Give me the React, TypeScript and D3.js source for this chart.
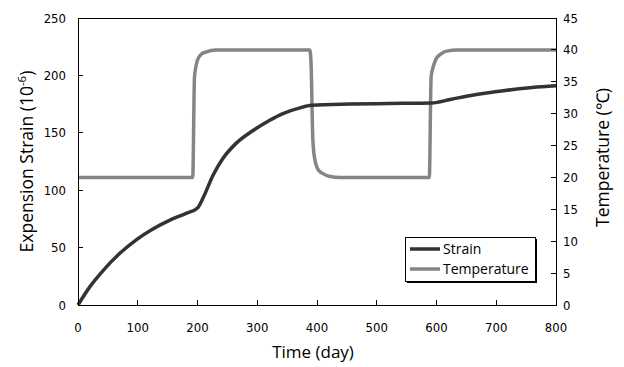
import * as d3 from "d3";

// ── Data ───────────────────────────────────────────────────

const strainDays = [0, 20, 42, 70, 98, 126, 154, 182, 200, 210, 226, 243, 265, 293, 321, 344, 370, 391, 455, 520, 592, 623, 662, 717, 760, 800];
const strainValues = [0, 16, 30, 45, 57, 66.5, 74, 80, 84.5, 94, 113, 128, 141, 152, 161, 167, 171.5, 174, 175, 175.5, 176, 179, 183, 187, 189.5, 191];

const tempDays = [0, 192, 195, 200, 206, 215, 230, 388, 390, 393, 396, 402, 410, 420, 440, 588, 591, 595, 600, 608, 617, 635, 800];
const tempValues = [20, 20, 35.8, 38.4, 39.3, 39.7, 40, 40, 38, 26, 23, 21.2, 20.6, 20.2, 20, 20, 35.8, 37.5, 38.7, 39.4, 39.8, 40, 40];

const xTicks = [0, 100, 200, 300, 400, 500, 600, 700, 800];
const leftTicks = [0, 50, 100, 150, 200, 250];
const rightTicks = [0, 5, 10, 15, 20, 25, 30, 35, 40, 45];

const seriesNames = ["Strain", "Temperature"];
const seriesColors = ["#333333", "#858585"];

// ── Layout ─────────────────────────────────────────────────

const W = 624;
const H = 367;
const M = { left: 78, right: 556, top: 18, bottom: 305 };
const TICK_FONT = "'DejaVu Sans Condensed', 'DejaVu Sans', sans-serif";
const TITLE_FONT = "'Open Sans', sans-serif";

export default function App() {
  const x = d3.scaleLinear().domain([0, 800]).range([M.left, M.right]);
  const yL = d3.scaleLinear().domain([0, 250]).range([M.bottom, M.top]);
  const yR = d3.scaleLinear().domain([0, 45]).range([M.bottom, M.top]);

  const strainLine = d3
    .line<number>()
    .x((_, i) => x(strainDays[i]))
    .y((d) => yL(d))
    .curve(d3.curveMonotoneX);

  const tempLine = d3
    .line<number>()
    .x((_, i) => x(tempDays[i]))
    .y((d) => yR(d))
    .curve(d3.curveMonotoneX);

  const legendX = 405;
  const legendY = 237;
  const legendW = 130;
  const legendH = 44;

  return (
    <svg
      width={W}
      height={H}
      style={{ position: "absolute", left: 0, top: 0, background: "#fff" }}
    >
      {/* Series */}
      <path
        d={tempLine(tempValues) ?? ""}
        fill="none"
        stroke={seriesColors[1]}
        strokeWidth={3.5}
        strokeLinejoin="round"
      />
      <path
        d={strainLine(strainValues) ?? ""}
        fill="none"
        stroke={seriesColors[0]}
        strokeWidth={3.5}
        strokeLinejoin="round"
      />

      {/* Plot frame */}
      <rect
        x={M.left}
        y={M.top}
        width={M.right - M.left}
        height={M.bottom - M.top}
        fill="none"
        stroke="#000"
        strokeWidth={1}
        shapeRendering="crispEdges"
      />

      {/* Bottom axis */}
      {xTicks.map((t) => (
        <g key={"x" + t}>
          <line
            x1={x(t)}
            x2={x(t)}
            y1={M.bottom}
            y2={M.bottom - 5}
            stroke="#000"
            shapeRendering="crispEdges"
          />
          <text
            x={x(t)}
            y={M.bottom + 27}
            textAnchor="middle"
            fontFamily={TICK_FONT}
            fontSize={13}
            fill="#000"
          >
            {t}
          </text>
        </g>
      ))}

      {/* Left axis */}
      {leftTicks.map((t) => (
        <g key={"l" + t}>
          <line
            x1={M.left}
            x2={M.left + 5}
            y1={yL(t)}
            y2={yL(t)}
            stroke="#000"
            shapeRendering="crispEdges"
          />
          <text
            x={M.left - 12}
            y={yL(t) + 4.5}
            textAnchor="end"
            fontFamily={TICK_FONT}
            fontSize={13}
            fill="#000"
          >
            {t}
          </text>
        </g>
      ))}

      {/* Right axis */}
      {rightTicks.map((t) => (
        <g key={"r" + t}>
          <line
            x1={M.right - 5}
            x2={M.right}
            y1={yR(t)}
            y2={yR(t)}
            stroke="#000"
            shapeRendering="crispEdges"
          />
          <text
            x={M.right + 7}
            y={yR(t) + 4.5}
            textAnchor="start"
            fontFamily={TICK_FONT}
            fontSize={13}
            fill="#000"
          >
            {t}
          </text>
        </g>
      ))}

      {/* Axis titles */}
      <text
        x={(M.left + M.right) / 2 - 4}
        y={358}
        textAnchor="middle"
        fontFamily={TITLE_FONT}
        fontSize={17}
        fill="#000"
      >
        Time (day)
      </text>
      <text
        transform={`translate(33, ${(M.top + M.bottom) / 2}) rotate(-90)`}
        textAnchor="middle"
        fontFamily={TITLE_FONT}
        fontSize={17.5}
        fill="#000"
      >
        Expension Strain (10
        <tspan dy={-7} fontSize={11.5}>
          -6
        </tspan>
        <tspan dy={7}>)</tspan>
      </text>
      <text
        transform={`translate(609, ${(M.top + M.bottom) / 2 - 4}) rotate(-90)`}
        textAnchor="middle"
        fontFamily={TITLE_FONT}
        fontSize={17.5}
        fill="#000"
      >
        Temperature (℃)
      </text>

      {/* Legend */}
      <rect
        x={legendX + 2}
        y={legendY + 2}
        width={legendW}
        height={legendH}
        fill="#000"
        shapeRendering="crispEdges"
      />
      <rect
        x={legendX}
        y={legendY}
        width={legendW}
        height={legendH}
        fill="#fff"
        stroke="#000"
        strokeWidth={1}
        shapeRendering="crispEdges"
      />
      {seriesNames.map((name, i) => (
        <g key={name}>
          <line
            x1={legendX + 5}
            x2={legendX + 35}
            y1={legendY + 12 + i * 20}
            y2={legendY + 12 + i * 20}
            stroke={seriesColors[i]}
            strokeWidth={3.5}
          />
          <text
            x={legendX + 38}
            y={legendY + 17 + i * 20}
            fontFamily={TITLE_FONT}
            fontSize={14}
            fill="#000"
          >
            {name}
          </text>
        </g>
      ))}
    </svg>
  );
}
